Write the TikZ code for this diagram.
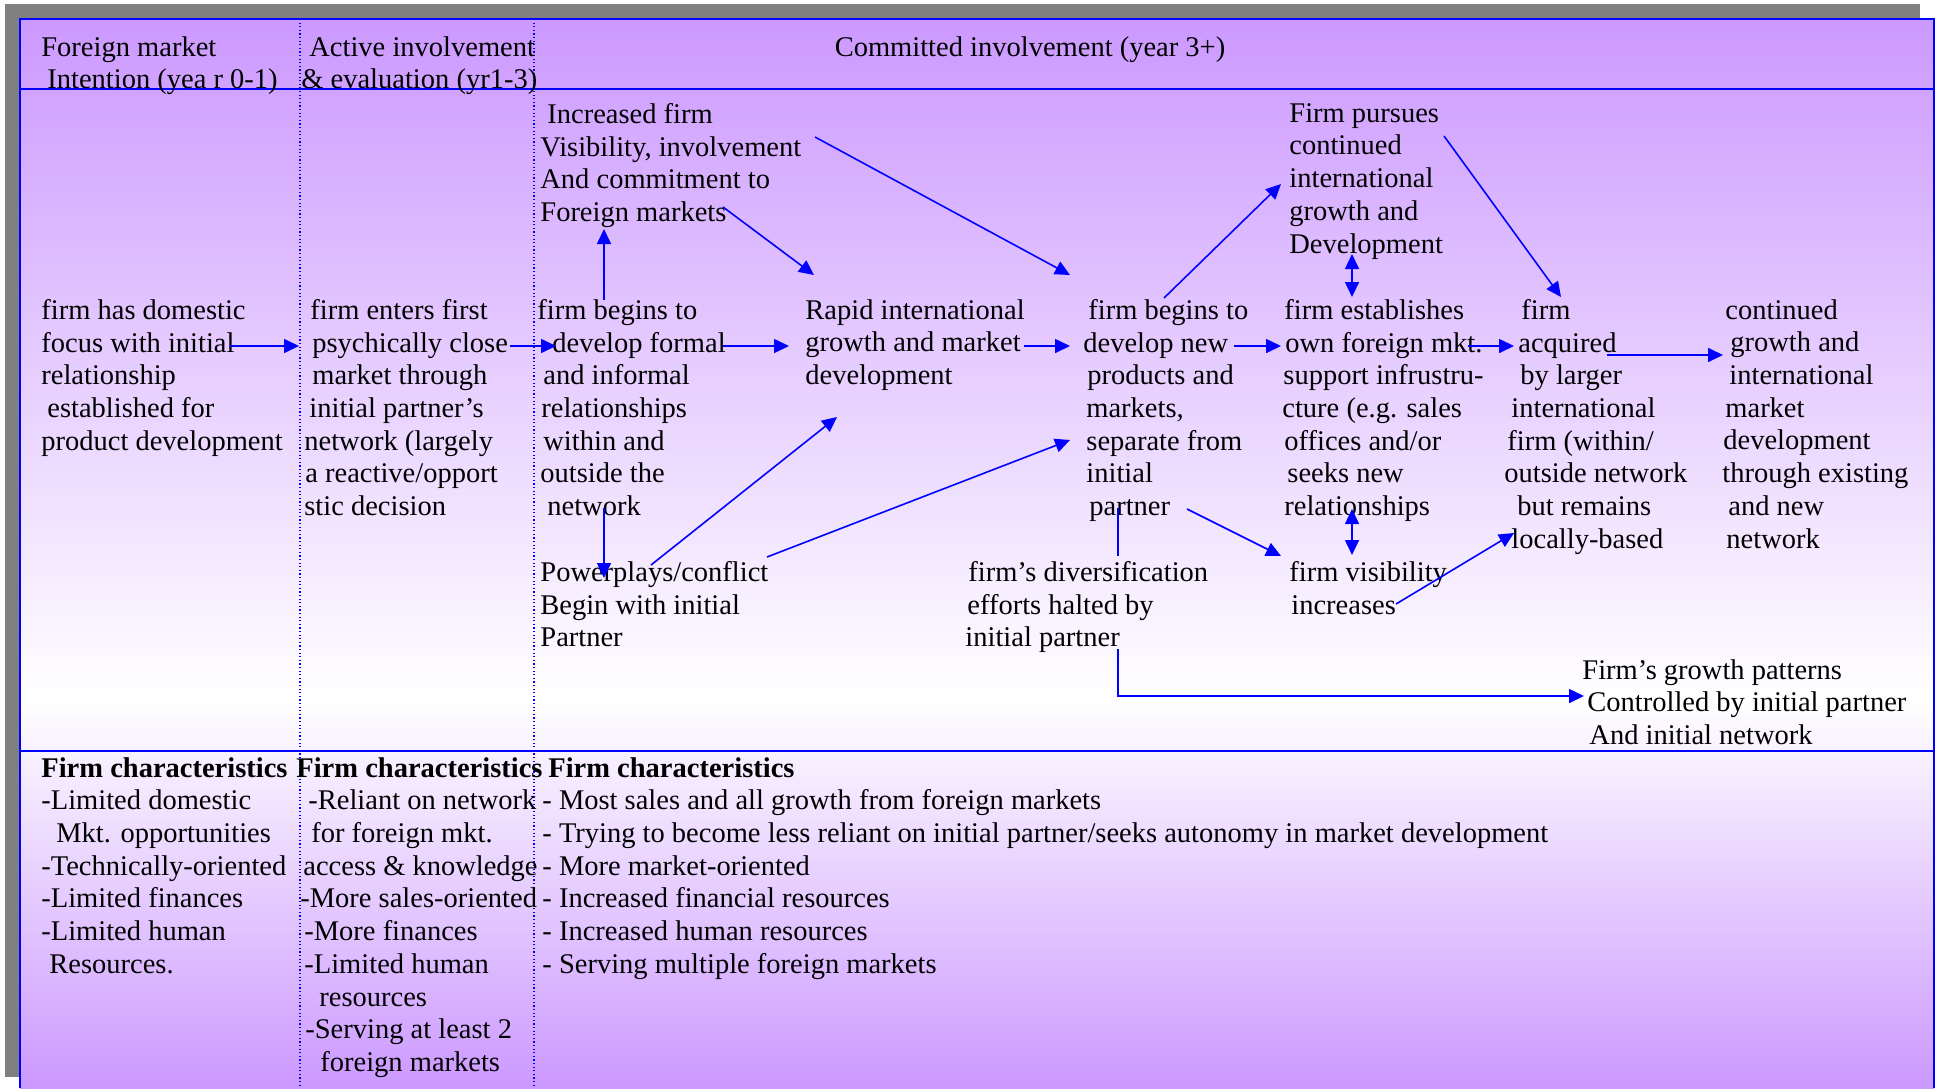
\documentclass[tikz,border=0pt]{standalone}
\usepackage{fontspec}
\setmainfont{Liberation Serif}
\usetikzlibrary{arrows.meta}

\definecolor{lilac}{RGB}{204,153,255}
\definecolor{lineblue}{RGB}{0,0,255}
\newlength{\px}
\setlength{\px}{0.5pt}
\newcommand{\pad}[1]{\hspace*{#1\px}}

\begin{document}
\begin{tikzpicture}[
	x=0.5pt, y=-0.5pt,
	txt/.style={
		anchor=north west,
		inner sep=0pt,
		align=left,
		font=\fontsize{14.25pt}{16.35pt}\selectfont,
		execute at begin node=\strut
	},
	frame/.style={draw=lineblue, line width=1.2pt},
	sep/.style={draw=lineblue, line width=0.6pt, dash pattern=on 0.6pt off 1.2pt},
	link/.style={draw=lineblue, line width=0.8pt},
	arr/.style={link, -{Triangle[length=7.5pt,width=7pt]}},
	both/.style={link, {Triangle[length=7.5pt,width=7pt]}-{Triangle[length=7.5pt,width=7pt]}}
]

\useasboundingbox (0,0) rectangle (1936,1088);
\fill[white] (0,0) rectangle (1936,1088);
\fill[gray] (5,4) rectangle (1920,1077);
\shade[top color=lilac, bottom color=white] (20,19) rectangle (1934,700);
\shade[top color=white, bottom color=lilac] (20,700) rectangle (1934,1088);

\draw[frame] (20,1088) -- (20,19) -- (1934,19) -- (1934,1088);
\draw[frame] (20,89) -- (1934,89);
\draw[frame] (20,751) -- (1934,751);
\draw[sep] (300,19) -- (300,1088);
\draw[sep] (534,19) -- (534,1088);

% phase headings
\node[txt] (head1) at (41,36) {Foreign market\\\pad{6}Intention (yea r 0-1)};
\node[txt] (head2) at (301,36) {\pad{8}Active involvement\\\& evaluation (yr1-3)};
\node[txt, anchor=north] (head3) at (1030,33) {Committed involvement (year 3+)};

% process steps
\node[txt] (incr) at (540,103) {\pad{7}Increased firm\\Visibility, involvement\\And commitment to\\Foreign markets};
\node[txt] (pursue) at (1289,103) {Firm pursues\\continued\\international\\growth and\\Development};
\node[txt] (dom) at (41,299) {firm has domestic\\focus with initial\\relationship\\\pad{6}established for\\product development};
\node[txt] (enter) at (304,299) {\pad{6}firm enters first\\\pad{8}psychically close\\\pad{8}market through\\\pad{5}initial partner’s\\network (largely\\\pad{1}a reactive/opport\\stic decision};
\node[txt] (begin) at (537,299) {firm begins to\\\pad{15}develop formal\\\pad{6}and informal\\\pad{4}relationships\\\pad{6}within and\\\pad{3}outside the\\\pad{10}network};
\node[txt] (rapid) at (805,299) {Rapid international\\growth and market\\development};
\node[txt] (newprod) at (1083,299) {\pad{5}firm begins to\\develop new\\\pad{4}products and\\\pad{3}markets,\\\pad{3}separate from\\\pad{3}initial\\\pad{6}partner};
\node[txt] (estab) at (1282,299) {\pad{2}firm establishes\\\pad{3}own foreign mkt.\\\pad{1}support infrustru-\\cture (e.g. sales\\\pad{2}offices and/or\\\pad{5}seeks new\\\pad{2}relationships};
\node[txt] (acq) at (1504,299) {\pad{17}firm\\\pad{14}acquired\\\pad{16}by larger\\\pad{7}international\\\pad{3}firm (within/\\outside network\\\pad{13}but remains\\\pad{7}locally-based};
\node[txt] (contd) at (1722,299) {\pad{3}continued\\\pad{8}growth and\\\pad{7}international\\\pad{3}market\\\pad{1}development\\through existing\\\pad{6}and new\\\pad{4}network};
\node[txt] (power) at (540,561) {Powerplays/conflict\\Begin with initial\\Partner};
\node[txt] (divers) at (965,561) {\pad{3}firm’s diversification\\\pad{2}efforts halted by\\initial partner};
\node[txt] (visib) at (1289,561) {firm visibility\\\pad{2}increases};
\node[txt] (growth) at (1582,659) {Firm’s growth patterns\\\pad{5}Controlled by initial partner\\\pad{7}And initial network};

% firm characteristics
\node[txt] (char1) at (41,757) {\textbf{Firm characteristics}\\-Limited domestic\\\pad{15}Mkt. opportunities\\-Technically-oriented\\-Limited finances\\-Limited human\\\pad{8}Resources.};
\node[txt] (char2) at (296,757) {\textbf{Firm characteristics}\\\pad{12}-Reliant on network\\\pad{15}for foreign mkt.\\\pad{7}access \& knowledge\\\pad{4}-More sales-oriented\\\pad{8}-More finances\\\pad{8}-Limited human\\\pad{23}resources\\\pad{9}-Serving at least 2\\\pad{24}foreign markets};
\node[txt] (char3) at (542,757) {\pad{6}\textbf{Firm characteristics}\\- Most sales and all growth from foreign markets\\- Trying to become less reliant on initial partner/seeks autonomy in market development\\- More market-oriented\\- Increased financial resources\\- Increased human resources\\- Serving multiple foreign markets};

% arrow ends
\coordinate (dom-out) at (230,346);
\coordinate (enter-in) at (299,346);
\coordinate (enter-out) at (510,346);
\coordinate (begin-in) at (556,346);
\coordinate (begin-out) at (723,346);
\coordinate (rapid-in) at (789,346);
\coordinate (rapid-out) at (1024,346);
\coordinate (newprod-in) at (1070,346);
\coordinate (newprod-out) at (1234,346);
\coordinate (estab-in) at (1281,346);
\coordinate (estab-out) at (1468,346);
\coordinate (acq-in) at (1514,346);
\coordinate (acq-out) at (1607,355);
\coordinate (contd-in) at (1723,355);
\coordinate (begin-up) at (604,300);
\coordinate (incr-below) at (604,229);
\coordinate (begin-down) at (604,508);
\coordinate (power-top) at (604,578);
\coordinate (incr-se) at (723,207);
\coordinate (rapid-nw) at (814,275);
\coordinate (incr-ne) at (815,137);
\coordinate (newprod-nw) at (1070,275);
\coordinate (power-ne) at (651,565);
\coordinate (rapid-sw) at (837,417);
\coordinate (power-e) at (767,557);
\coordinate (newprod-w) at (1070,440);
\coordinate (newprod-ne) at (1164,298);
\coordinate (pursue-w) at (1281,184);
\coordinate (pursue-e) at (1444,136);
\coordinate (acq-n) at (1561,297);
\coordinate (pursue-s) at (1352,254);
\coordinate (estab-n) at (1352,297);
\coordinate (estab-s) at (1352,509);
\coordinate (visib-n) at (1352,555);
\coordinate (newprod-se) at (1187,509);
\coordinate (visib-w) at (1281,556);
\coordinate (visib-e) at (1396,604);
\coordinate (acq-sw) at (1514,533);
\coordinate (newprod-s) at (1118,508);
\coordinate (divers-n) at (1118,556);
\coordinate (divers-s) at (1118,649);
\coordinate (growth-w) at (1584,696);

\draw[arr] (dom-out) -- (enter-in);
\draw[arr] (enter-out) -- (begin-in);
\draw[arr] (begin-out) -- (rapid-in);
\draw[arr] (rapid-out) -- (newprod-in);
\draw[arr] (newprod-out) -- (estab-in);
\draw[arr] (estab-out) -- (acq-in);
\draw[arr] (acq-out) -- (contd-in);
\draw[arr] (begin-up) -- (incr-below);
\draw[arr] (begin-down) -- (power-top);
\draw[arr] (incr-se) -- (rapid-nw);
\draw[arr] (incr-ne) -- (newprod-nw);
\draw[arr] (power-ne) -- (rapid-sw);
\draw[arr] (power-e) -- (newprod-w);
\draw[arr] (newprod-ne) -- (pursue-w);
\draw[arr] (pursue-e) -- (acq-n);
\draw[both] (pursue-s) -- (estab-n);
\draw[both] (estab-s) -- (visib-n);
\draw[arr] (newprod-se) -- (visib-w);
\draw[arr] (visib-e) -- (acq-sw);
\draw[link] (newprod-s) -- (divers-n);
\draw[arr] (divers-s) |- (growth-w);

\end{tikzpicture}
\end{document}
